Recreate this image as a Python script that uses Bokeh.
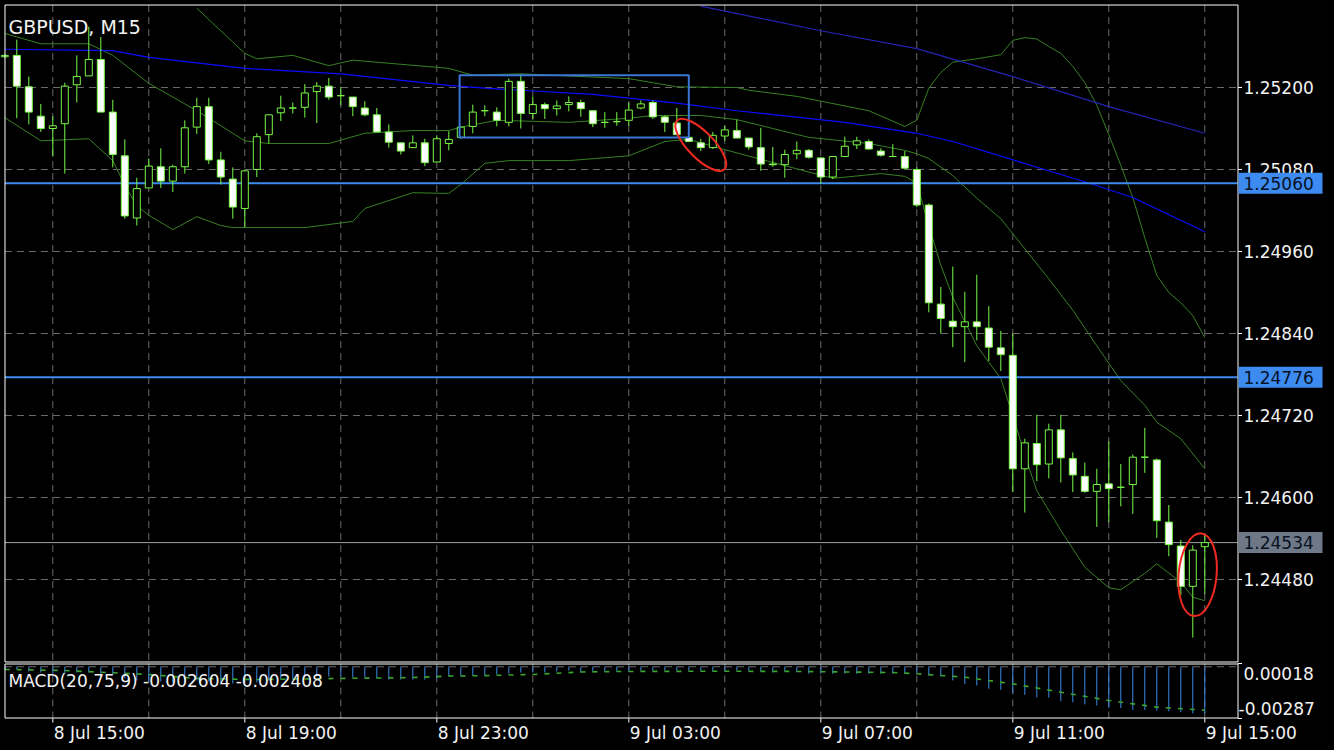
import numpy as np
from bokeh.plotting import figure
from bokeh.models import Range1d, ColumnDataSource
from bokeh.core.properties import value
from bokeh.embed import file_html
from bokeh.resources import INLINE

# ---------------- data (15-minute bars, index 0 = 8 Jul 15:00) ----------------
bar_index = list(range(-4, 97))

open_prices = [
    1.25245, 1.25247, 1.25201, 1.25158,
    1.25140, 1.25147, 1.25204, 1.25217, 1.25241, 1.25164, 1.25100, 1.25009, 1.25053, 1.25084,
    1.25063, 1.25084, 1.25142, 1.25172, 1.25094, 1.25066, 1.25023, 1.25080, 1.25131, 1.25163,
    1.25170, 1.25171, 1.25194, 1.25202, 1.25188, 1.25186, 1.25170, 1.25160, 1.25135, 1.25119,
    1.25112, 1.25119, 1.25091, 1.25118, 1.25127, 1.25143, 1.25166, 1.25164, 1.25149, 1.25209,
    1.25162, 1.25175, 1.25169, 1.25175, 1.25178, 1.25166, 1.25149, 1.25150, 1.25152, 1.25170,
    1.25178, 1.25157, 1.25148, 1.25127, 1.25119, 1.25112, 1.25129, 1.25137, 1.25126, 1.25112,
    1.25088, 1.25087, 1.25103, 1.25108, 1.25097, 1.25069, 1.25099, 1.25116, 1.25121, 1.25107,
    1.25099, 1.25099, 1.25080, 1.25028, 1.24883, 1.24858, 1.24850, 1.24857, 1.24848, 1.24819,
    1.24808, 1.24642, 1.24679, 1.24649, 1.24699, 1.24657, 1.24631, 1.24609, 1.24620, 1.24615,
    1.24619, 1.24659, 1.24655, 1.24564, 1.24529, 1.24470, 1.24528]

high_prices = [
    1.25249, 1.25270, 1.25216, 1.25176,
    1.25158, 1.25207, 1.25247, 1.25289, 1.25274, 1.25182, 1.25124, 1.25068, 1.25096, 1.25111,
    1.25087, 1.25152, 1.25185, 1.25185, 1.25106, 1.25083, 1.25080, 1.25133, 1.25160, 1.25188,
    1.25178, 1.25205, 1.25208, 1.25214, 1.25201, 1.25186, 1.25180, 1.25170, 1.25146, 1.25119,
    1.25130, 1.25125, 1.25130, 1.25136, 1.25143, 1.25175, 1.25174, 1.25171, 1.25213, 1.25220,
    1.25187, 1.25178, 1.25181, 1.25187, 1.25182, 1.25166, 1.25164, 1.25164, 1.25178, 1.25181,
    1.25181, 1.25159, 1.25170, 1.25128, 1.25125, 1.25135, 1.25144, 1.25153, 1.25126, 1.25141,
    1.25113, 1.25109, 1.25121, 1.25110, 1.25098, 1.25099, 1.25128, 1.25128, 1.25124, 1.25111,
    1.25117, 1.25107, 1.25083, 1.25030, 1.24908, 1.24938, 1.24901, 1.24926, 1.24880, 1.24844,
    1.24840, 1.24686, 1.24721, 1.24708, 1.24721, 1.24666, 1.24651, 1.24642, 1.24682, 1.24649,
    1.24663, 1.24702, 1.24657, 1.24589, 1.24538, 1.24530, 1.24547]

low_prices = [
    1.25243, 1.25155, 1.25146, 1.25135,
    1.25099, 1.25074, 1.25178, 1.25217, 1.25164, 1.25083, 1.25008, 1.24998, 1.25053, 1.25053,
    1.25047, 1.25074, 1.25132, 1.25088, 1.25058, 1.25008, 1.24996, 1.25069, 1.25118, 1.25151,
    1.25162, 1.25156, 1.25148, 1.25182, 1.25174, 1.25158, 1.25158, 1.25135, 1.25112, 1.25102,
    1.25112, 1.25085, 1.25091, 1.25108, 1.25125, 1.25133, 1.25158, 1.25143, 1.25143, 1.25140,
    1.25154, 1.25154, 1.25159, 1.25165, 1.25157, 1.25142, 1.25141, 1.25144, 1.25144, 1.25168,
    1.25154, 1.25135, 1.25130, 1.25120, 1.25107, 1.25110, 1.25122, 1.25126, 1.25109, 1.25078,
    1.25084, 1.25068, 1.25095, 1.25096, 1.25059, 1.25066, 1.25098, 1.25110, 1.25109, 1.25099,
    1.25098, 1.25080, 1.25025, 1.24871, 1.24840, 1.24820, 1.24798, 1.24830, 1.24800, 1.24785,
    1.24608, 1.24578, 1.24624, 1.24628, 1.24622, 1.24608, 1.24607, 1.24557, 1.24564, 1.24587,
    1.24576, 1.24636, 1.24541, 1.24514, 1.24457, 1.24395, 1.24459]

close_prices = [
    1.25247, 1.25202, 1.25164, 1.25140,
    1.25144, 1.25202, 1.25216, 1.25241, 1.25164, 1.25102, 1.25012, 1.25052, 1.25085, 1.25063,
    1.25084, 1.25141, 1.25172, 1.25094, 1.25069, 1.25025, 1.25078, 1.25128, 1.25160, 1.25170,
    1.25170, 1.25192, 1.25202, 1.25186, 1.25188, 1.25172, 1.25160, 1.25135, 1.25120, 1.25107,
    1.25119, 1.25090, 1.25125, 1.25124, 1.25142, 1.25164, 1.25166, 1.25152, 1.25209, 1.25162,
    1.25175, 1.25169, 1.25173, 1.25178, 1.25169, 1.25147, 1.25149, 1.25150, 1.25167, 1.25176,
    1.25157, 1.25149, 1.25131, 1.25121, 1.25112, 1.25130, 1.25138, 1.25126, 1.25113, 1.25088,
    1.25087, 1.25102, 1.25108, 1.25098, 1.25069, 1.25099, 1.25114, 1.25122, 1.25110, 1.25101,
    1.25099, 1.25082, 1.25028, 1.24885, 1.24862, 1.24850, 1.24857, 1.24850, 1.24820, 1.24809,
    1.24642, 1.24680, 1.24648, 1.24699, 1.24658, 1.24633, 1.24609, 1.24619, 1.24613, 1.24615,
    1.24659, 1.24659, 1.24566, 1.24531, 1.24470, 1.24523, 1.24534]

# Bollinger bands (read at selected bars)
bb_upper_bars = [12, 14, 16, 17, 20, 23, 25, 29, 33, 35, 39, 48, 50, 52, 57, 58, 62, 68, 71, 72, 73,
                 74, 75, 77, 79, 80, 81, 82, 83, 84, 85, 86, 87, 88, 89, 90, 91, 92, 93, 94, 95, 96]
bb_upper_vals = [1.25316, 1.25283, 1.25250, 1.25242, 1.25247, 1.25232, 1.25240, 1.25234, 1.25228,
                 1.25218, 1.25220, 1.25213, 1.25207, 1.25201, 1.25200, 1.25196, 1.25187, 1.25166, 1.25143,
                 1.25152, 1.25199, 1.25222, 1.25237, 1.25242, 1.25248, 1.25269, 1.25273, 1.25271, 1.25260,
                 1.25250, 1.25231, 1.25207, 1.25174, 1.25131, 1.25086, 1.25039, 1.24980, 1.24925, 1.24900,
                 1.24885, 1.24866, 1.24834]
bb_mid_bars = [-4, -1, 3, 5, 8, 12, 16, 18, 23, 26, 30, 33, 34, 37, 43, 48, 50, 54, 57, 60, 63, 68, 71,
               72, 73, 75, 77, 79, 81, 83, 85, 87, 89, 91, 92, 94, 96]
bb_mid_vals = [1.25279, 1.25264, 1.25264, 1.25247, 1.25206, 1.25166, 1.25122, 1.25118, 1.25118, 1.25133,
               1.25137, 1.25137, 1.25142, 1.25152, 1.25149, 1.25155, 1.25159, 1.25159, 1.25153, 1.25140,
               1.25127, 1.25118, 1.25108, 1.25103, 1.25096, 1.25071, 1.25038, 1.25008, 1.24964, 1.24920,
               1.24874, 1.24822, 1.24771, 1.24735, 1.24710, 1.24686, 1.24642]
bb_lower_bars = [-4, -1, 3, 5, 6, 7, 8, 10, 12, 14, 15, 21, 25, 26, 30, 33, 34, 36, 38, 43, 48, 51, 53,
                 56, 62, 65, 69, 71, 72, 73, 74, 75, 77, 79, 80, 81, 82, 84, 86, 88, 89, 91, 92, 94, 95, 96]
bb_lower_vals = [1.25156, 1.25122, 1.25125, 1.25093, 1.25057, 1.25027, 1.25013, 1.24992, 1.25011, 1.24998,
                 1.24995, 1.24995, 1.25004, 1.25023, 1.25046, 1.25045, 1.25058, 1.25089, 1.25093, 1.25093,
                 1.25100, 1.25121, 1.25124, 1.25109, 1.25081, 1.25067, 1.25074, 1.25070, 1.25060, 1.24998,
                 1.24940, 1.24893, 1.24822, 1.24774, 1.24720, 1.24662, 1.24610, 1.24552, 1.24498, 1.24468,
                 1.24465, 1.24489, 1.24503, 1.24476, 1.24454, 1.24449]

# moving averages
ma_a_bars = [54, 64, 72, 80, 88, 96]
ma_a_vals = [1.25319, 1.25283, 1.25257, 1.25216, 1.25172, 1.25133]
ma_b_bars = [-4, 5, 8, 16, 24, 33, 36, 45, 52, 57, 66, 72, 75, 86, 90, 96]
ma_b_vals = [1.25256, 1.25254, 1.25244, 1.25228, 1.25220, 1.25203, 1.25199, 1.25190, 1.25177, 1.25166,
             1.25149, 1.25133, 1.25121, 1.25062, 1.25039, 1.24989]

# MACD(20,75,9)
macd_hist = [
    -0.00015, -0.00015, -0.00026, -0.00032,
    -0.00038, -0.00038, -0.00032, -0.00032, -0.00038, -0.00049, -0.00065, -0.00076, -0.00082, -0.00082,
    -0.00087, -0.00082, -0.00076, -0.00082, -0.00087, -0.00093, -0.00093, -0.00087, -0.00076, -0.00071,
    -0.00065, -0.00060, -0.00054, -0.00054, -0.00054, -0.00060, -0.00060, -0.00065, -0.00071, -0.00071,
    -0.00071, -0.00071, -0.00065, -0.00052, -0.00049, -0.00049, -0.00049, -0.00043, -0.00038, -0.00032,
    -0.00032, -0.00032, -0.00026, -0.00021, -0.00032, -0.00026, -0.00026, -0.00026, -0.00026, -0.00021,
    -0.00021, -0.00021, -0.00021, -0.00021, -0.00021, -0.00026, -0.00026, -0.00021, -0.00021, -0.00026,
    -0.00032, -0.00026, -0.00030, -0.00039, -0.00039, -0.00039, -0.00039, -0.00039, -0.00039, -0.00039,
    -0.00039, -0.00039, -0.00039, -0.00049, -0.00054, -0.00076, -0.00095, -0.00104, -0.00122, -0.00128,
    -0.00146, -0.00156, -0.00169, -0.00171, -0.00191, -0.00197, -0.00209, -0.00215, -0.00228, -0.00229,
    -0.00239, -0.00240, -0.00243, -0.00247, -0.00252, -0.00258, -0.002604]
macd_signal_bars = [-4, 1, 8, 12, 17, 24, 30, 33, 36, 40, 44, 48, 56, 62, 66, 70, 72, 76, 80, 84, 88, 92, 96]
macd_signal_vals = [-0.00015, -0.00021, -0.00043, -0.00065, -0.00071, -0.00065, -0.00060, -0.00052, -0.00049,
                    -0.00043, -0.00029, -0.00026, -0.00025, -0.00026, -0.00029, -0.00032, -0.00039, -0.00058,
                    -0.00095, -0.00141, -0.00187, -0.00224, -0.002408]
macd_text = "MACD(20,75,9) -0.002604 -0.002408"
macd_max, macd_min = 0.00018, -0.00287

# axes / annotations
price_ticks = [1.24480, 1.24600, 1.24720, 1.24840, 1.24960, 1.25080, 1.25200]
grid_bars = list(range(0, 97, 8))
time_label_bars = [0, 16, 32, 48, 64, 80, 96]
time_labels = ["8 Jul 15:00", "8 Jul 19:00", "8 Jul 23:00", "9 Jul 03:00",
               "9 Jul 07:00", "9 Jul 11:00", "9 Jul 15:00"]
level_prices = [1.25060, 1.24776]
current_price = 1.24534
box_bars = [33.9, 53.0]
box_prices = [1.25127, 1.25218]
ellipse_bars = [54.0, 95.4]
ellipse_prices = [1.25116, 1.24487]
title_text = "GBPUSD, M15"

# ---------------- styles / layout ----------------
BG = "#000000"
CANDLE = "#78f846"
BAND = "#378024"
MA_A = "#2424b4"
MA_B = "#0c0cff"
LEVEL = "#3d8bf0"
BOXC = "#3b78d6"
RED = "#f02a20"
GRID = "#6a6a6a"
PRICE_LINE = "#9aa0a8"
PRICE_BOX = "#6e7887"
HIST = "#3c8ae8"
SIGNAL = "#3aa52c"
TEXT = "#f2f2f2"
BOX_TEXT = "#07111e"
FONT = value("DejaVu Sans")

W, H = 1334, 748
BAR0_PX, PX_PER_BAR = 52.3, 12.0          # screen x of bar 0, spacing
PRICE_REF, PRICE_REF_Y = 1.25200, 87.0     # screen y of a reference price
PPP = 0.0012 / 82.0                        # price per pixel
MACD_TOP_Y, MACD_BOT_Y = 663.0, 718.0
MPP = (macd_max - macd_min) / (MACD_BOT_Y - MACD_TOP_Y)
PLOT_L, PLOT_R, PLOT_T, PLOT_B = 4.5, 1237.5, 4.5, 661.5


def bx(px):
    return (px - BAR0_PX) / PX_PER_BAR


def py(y):
    return PRICE_REF - (y - PRICE_REF_Y) * PPP


def my(y):
    return macd_max - (y - MACD_TOP_Y) * MPP


o = np.array(open_prices)
c = np.array(close_prices)
src = ColumnDataSource(dict(
    x=bar_index, high=high_prices, low=low_prices,
    top=np.maximum(o, c), bottom=np.minimum(o, c),
    fill=["#ffffff" if cc < oo else "#000000" for oo, cc in zip(o, c)],
))

p = figure(frame_width=W, frame_height=H, x_range=Range1d(bx(0), bx(W)), y_range=Range1d(py(H), py(0)),
           x_axis_location=None, y_axis_location=None, toolbar_location=None, output_backend="svg",
           background_fill_color=BG, border_fill_color=BG, outline_line_color=None,
           min_border=0, min_border_left=0, min_border_right=0, min_border_top=0, min_border_bottom=0)
p.extra_y_ranges = {"macd": Range1d(my(H), my(0))}
p.grid.visible = False

xl, xr = bx(PLOT_L), bx(PLOT_R - 0.5)

# grid (main panel)
p.segment(x0=[xl] * len(price_ticks), x1=[xr] * len(price_ticks), y0=price_ticks, y1=price_ticks,
          line_color=GRID, line_width=1, line_dash="7 5")
p.segment(x0=grid_bars, x1=grid_bars, y0=[py(PLOT_T)] * len(grid_bars), y1=[py(PLOT_B)] * len(grid_bars),
          line_color=GRID, line_width=1, line_dash="7 5")
# grid (MACD panel)
p.segment(x0=grid_bars, x1=grid_bars, y0=[my(MACD_TOP_Y)] * len(grid_bars),
          y1=[my(MACD_BOT_Y)] * len(grid_bars), line_color=GRID, line_width=1, line_dash="7 5",
          y_range_name="macd")
p.segment(x0=[xl], x1=[xr], y0=[0], y1=[0], line_color=GRID, line_width=1, line_dash="7 5",
          y_range_name="macd")

# indicator lines
p.line(bb_upper_bars, bb_upper_vals, line_color=BAND, line_width=1)
p.line(bb_mid_bars, bb_mid_vals, line_color=BAND, line_width=1)
p.line(bb_lower_bars, bb_lower_vals, line_color=BAND, line_width=1)
p.line(ma_a_bars, ma_a_vals, line_color=MA_A, line_width=1.2)
p.line(ma_b_bars, ma_b_vals, line_color=MA_B, line_width=1.2)

# level lines
p.segment(x0=[xl] * 2, x1=[xr] * 2, y0=level_prices, y1=level_prices, line_color=LEVEL, line_width=2)
p.segment(x0=[xl], x1=[xr], y0=[current_price], y1=[current_price], line_color=PRICE_LINE, line_width=1)

# candles
p.segment(x0="x", y0="low", x1="x", y1="high", source=src, line_color=CANDLE, line_width=1)
p.vbar(x="x", width=7.0 / PX_PER_BAR, top="top", bottom="bottom", source=src,
       fill_color="fill", line_color=CANDLE, line_width=1)

# drawn objects
p.quad(left=[box_bars[0]], right=[box_bars[1]], bottom=[box_prices[0]], top=[box_prices[1]],
       fill_alpha=0, line_color=BOXC, line_width=2)
p.ellipse(x=ellipse_bars, y=ellipse_prices, width=[68, 38], height=[26, 83], angle=[-0.8, -0.09],
          width_units="screen", height_units="screen", fill_alpha=0, line_color=RED, line_width=2)

# MACD
p.segment(x0=bar_index, y0=[0] * len(bar_index), x1=bar_index, y1=macd_hist, line_color=HIST,
          line_width=1, y_range_name="macd")
p.line(macd_signal_bars, macd_signal_vals, line_color=SIGNAL, line_width=1.6, line_dash="5 7",
       y_range_name="macd")

# panel borders
p.quad(left=[bx(PLOT_L)], right=[bx(PLOT_R)], top=[py(PLOT_T)], bottom=[py(PLOT_B)],
       fill_alpha=0, line_color="white", line_width=1)
p.quad(left=[bx(PLOT_L)], right=[bx(PLOT_R)], top=[my(MACD_TOP_Y + 0.5)], bottom=[my(MACD_BOT_Y - 0.5)],
       fill_alpha=0, line_color="white", line_width=1, y_range_name="macd")

# price scale ticks + labels
tx0, tx1 = bx(PLOT_R), bx(PLOT_R + 4)
p.segment(x0=[tx0] * len(price_ticks), x1=[tx1] * len(price_ticks), y0=price_ticks, y1=price_ticks,
          line_color="white", line_width=1)
p.text(x=[bx(1243)] * len(price_ticks), y=price_ticks, text=[f"{t:.5f}" for t in price_ticks],
       text_font=FONT, text_font_size=value("17px"), text_color=TEXT,
       text_align="left", text_baseline="middle")

# MACD scale ticks + labels
p.segment(x0=[tx0] * 2, x1=[tx1] * 2, y0=[macd_max, macd_min], y1=[macd_max, macd_min],
          line_color="white", line_width=1, y_range_name="macd")
p.text(x=[bx(1243), bx(1238)], y=[my(MACD_TOP_Y + 10), my(MACD_BOT_Y - 10)],
       text=[f"{macd_max:.5f}", f"{macd_min:.5f}"], text_font=FONT, text_font_size=value("17px"),
       text_color=TEXT, text_align="left", text_baseline="middle", y_range_name="macd")

# level / current price boxes on the scale
box_y = level_prices + [current_price]
box_c = [LEVEL, LEVEL, PRICE_BOX]
p.rect(x=[bx(1280)] * 3, y=box_y, width=84, height=21, width_units="screen", height_units="screen",
       fill_color=box_c, line_color=None)
p.text(x=[bx(1243)] * 3, y=box_y, text=[f"{v:.5f}" for v in box_y], text_font=FONT,
       text_font_size=value("17px"), text_color=BOX_TEXT, text_align="left", text_baseline="middle")

# time scale ticks + labels
p.segment(x0=time_label_bars, x1=time_label_bars, y0=[py(MACD_BOT_Y)] * len(time_label_bars),
          y1=[py(MACD_BOT_Y + 4)] * len(time_label_bars), line_color="white", line_width=1)
p.text(x=[b + 1 / PX_PER_BAR for b in time_label_bars], y=[py(732)] * len(time_label_bars), text=time_labels,
       text_font=FONT, text_font_size=value("17px"), text_color=TEXT,
       text_align="left", text_baseline="middle")

# title and indicator caption
p.text(x=[bx(8)], y=[py(26)], text=[title_text], text_font=FONT, text_font_size=value("19px"),
       text_color=TEXT, text_align="left", text_baseline="alphabetic")
p.text(x=[bx(8)], y=[my(680)], text=[macd_text], text_font=FONT, text_font_size=value("17px"),
       text_color=TEXT, text_align="left", text_baseline="alphabetic", y_range_name="macd")

html = file_html(p, INLINE)
html = html.replace("<head>", "<head><style>html, body { background-color: #000000; }</style>", 1)
open("out.html", "w").write(html)
